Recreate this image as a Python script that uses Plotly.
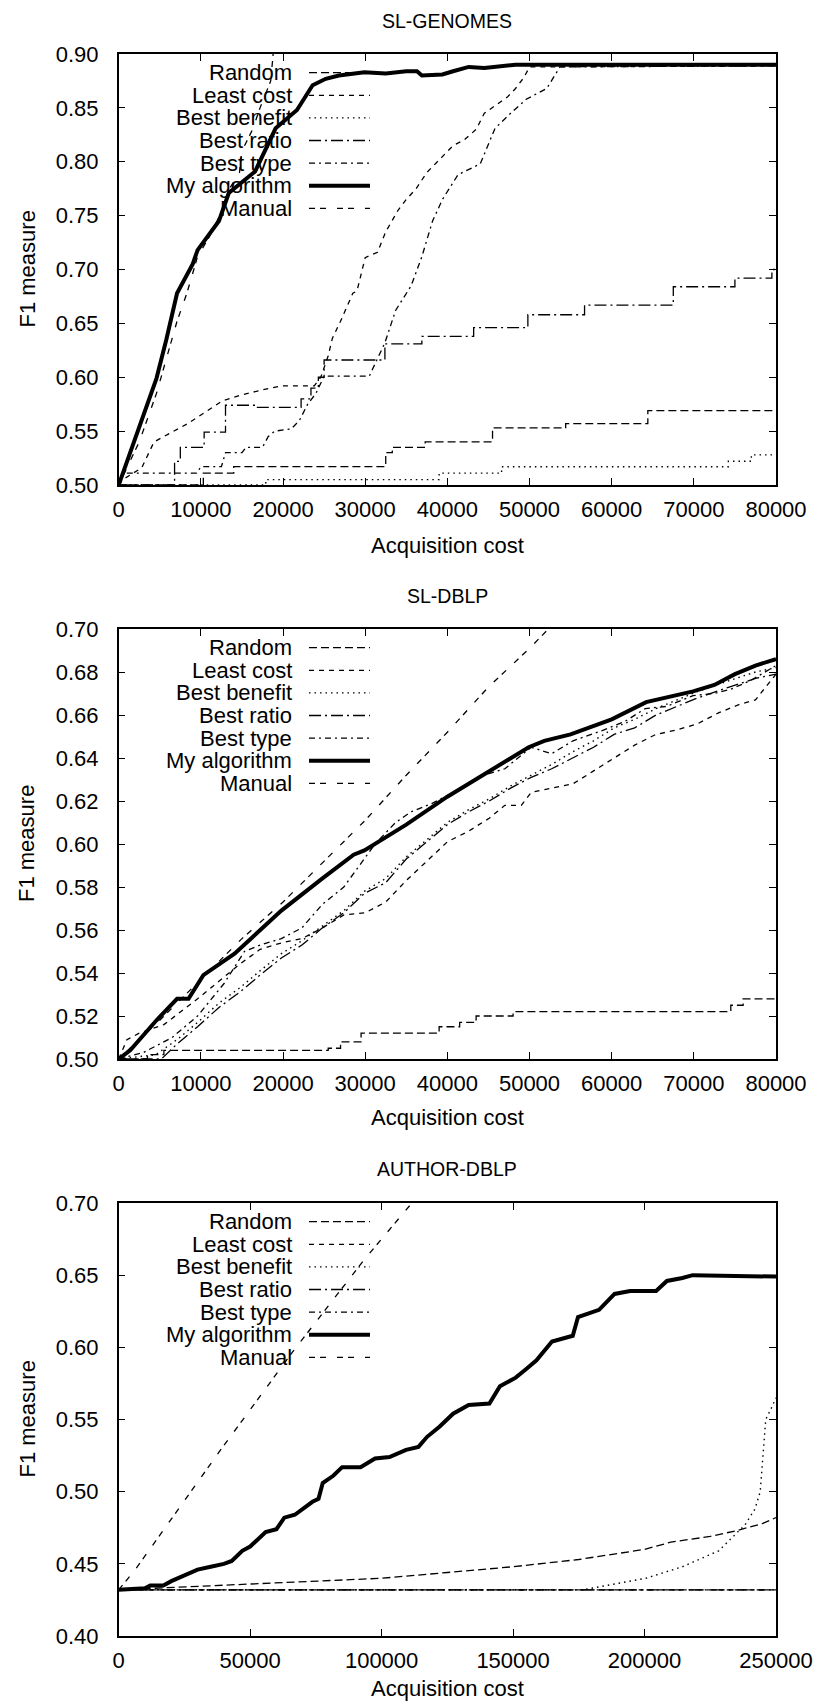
import plotly.graph_objects as go

FONT = "Liberation Sans, Arial, sans-serif"

# ---------------- Panel 1: SL-GENOMES ----------------
p1_random_x = [0, 10300, 14000, 32500, 33300, 37300, 45500, 54400, 64400, 80000]
p1_random_y = [0.50, 0.511, 0.517, 0.530, 0.535, 0.540, 0.553, 0.557, 0.569, 0.569]

p1_least_x = [0, 500, 2800, 4300, 8400, 12600, 14700, 17300, 19800, 23800, 24600, 25500, 26000,
              27000, 28500, 29000, 30000, 31500, 32500, 34000, 35000, 36200, 37500, 38800,
              40700, 42000, 43500, 44500, 46300, 47300, 48300, 49300, 50000, 80000]
p1_least_y = [0.500, 0.505, 0.516, 0.540, 0.557, 0.578, 0.583, 0.588, 0.592, 0.592, 0.600, 0.620, 0.636,
              0.652, 0.678, 0.680, 0.711, 0.716, 0.735, 0.755, 0.765, 0.775, 0.790, 0.800,
              0.815, 0.820, 0.830, 0.845, 0.855, 0.860, 0.868, 0.878, 0.888, 0.889]

p1_benefit_x = [0, 17900, 39000, 46600, 74200, 77000, 80000]
p1_benefit_y = [0.500, 0.505, 0.511, 0.517, 0.522, 0.528, 0.528]

p1_ratio_x = [0, 6800, 7500, 10400, 13000, 16800, 22200, 23400, 24300, 25000, 32400, 36900,
              43200, 49800, 56700, 67500, 75000, 79500, 80000]
p1_ratio_y = [0.500, 0.522, 0.535, 0.549, 0.574, 0.572, 0.580, 0.590, 0.600, 0.616, 0.631, 0.638,
              0.646, 0.658, 0.667, 0.684, 0.692, 0.700, 0.700]

p1_type_x = [0, 600, 9500, 10000, 12500, 13000, 15000, 15500, 17500, 18200, 19000, 21000, 22000,
             23000, 24000, 25000, 30500, 31200, 32400, 33700, 35600, 36900, 38200, 39400, 41300,
             44000, 45800, 47700, 49600, 52100, 53700, 80000]
p1_type_y = [0.500, 0.511, 0.511, 0.517, 0.517, 0.530, 0.530, 0.535, 0.535, 0.545, 0.550, 0.552, 0.560,
             0.575, 0.585, 0.601, 0.601, 0.612, 0.632, 0.662, 0.685, 0.712, 0.745, 0.765, 0.788,
             0.798, 0.831, 0.845, 0.858, 0.868, 0.888, 0.889]

p1_algo_x = [0, 2000, 4600, 5800, 7100, 9000, 9600, 12200, 13400, 16600, 19100, 21700, 23600,
             25200, 26800, 29900, 32500, 35000, 36300, 36900, 39400, 40700, 42600, 44500,
             48300, 80000]
p1_algo_y = [0.500, 0.542, 0.599, 0.635, 0.678, 0.705, 0.718, 0.745, 0.771, 0.791, 0.831, 0.848,
             0.871, 0.877, 0.880, 0.883, 0.882, 0.884, 0.884, 0.880, 0.881, 0.884, 0.888, 0.887,
             0.890, 0.890]

p1_manual_x = [0, 2500, 4600, 7100, 8300, 9600, 11000, 12800, 13400, 14700, 15000, 16300, 17200, 18500, 18800]
p1_manual_y = [0.500, 0.540, 0.585, 0.652, 0.678, 0.712, 0.730, 0.758, 0.774, 0.790, 0.810, 0.830,
               0.850, 0.875, 0.900]

# ---------------- Panel 2: SL-DBLP ----------------
p2_random_x = [0, 3500, 5500, 25500, 27000, 29500, 39000, 41500, 43500, 48000, 74500, 76000, 80000]
p2_random_y = [0.500, 0.502, 0.504, 0.505, 0.508, 0.512, 0.515, 0.517, 0.520, 0.522, 0.525, 0.528, 0.528]

p2_least_x = [0, 1000, 2500, 5500, 9600, 12200, 14700, 17200, 19800, 22300, 24800, 27400, 30000,
              32500, 35000, 37500, 40000, 42600, 45100, 47000, 49000, 50200, 52700, 55300,
              57800, 60300, 62800, 65400, 67900, 70500, 73000, 75600, 77500, 80000]
p2_least_y = [0.500, 0.509, 0.512, 0.516, 0.528, 0.536, 0.544, 0.551, 0.554, 0.556, 0.561, 0.567, 0.568,
              0.573, 0.583, 0.592, 0.601, 0.606, 0.612, 0.618, 0.618, 0.624, 0.626, 0.628,
              0.634, 0.640, 0.646, 0.651, 0.653, 0.656, 0.661, 0.665, 0.667, 0.679]

p2_benefit_x = [0, 4500, 7100, 9600, 12200, 14700, 17200, 19800, 22300, 24800, 27400, 29900, 32500,
                35000, 37500, 40000, 42600, 45100, 47700, 50200, 52700, 55300, 57800, 60300,
                62800, 65400, 67900, 70500, 74300, 77500, 80000]
p2_benefit_y = [0.500, 0.502, 0.509, 0.517, 0.526, 0.533, 0.541, 0.549, 0.555, 0.562, 0.569, 0.578, 0.584,
                0.594, 0.602, 0.610, 0.616, 0.621, 0.627, 0.632, 0.637, 0.643, 0.648, 0.654,
                0.658, 0.663, 0.667, 0.671, 0.676, 0.680, 0.682]

p2_ratio_x = [0, 5200, 7100, 9600, 12200, 14700, 17200, 19800, 22300, 24800, 27400, 29900, 32500,
              35000, 37500, 40000, 42600, 45100, 47700, 50200, 52700, 55300, 57800, 60300,
              62800, 65400, 67900, 70500, 74300, 77500, 80000]
p2_ratio_y = [0.500, 0.500, 0.507, 0.515, 0.524, 0.531, 0.539, 0.547, 0.553, 0.561, 0.568, 0.577, 0.582,
              0.593, 0.601, 0.609, 0.615, 0.620, 0.626, 0.631, 0.635, 0.640, 0.645, 0.651,
              0.654, 0.660, 0.664, 0.668, 0.673, 0.677, 0.679]

p2_type_x = [0, 3000, 6500, 9600, 12800, 15300, 17200, 19800, 22300, 24800, 27400, 29300, 31200,
             33700, 35600, 38200, 40700, 44500, 47000, 50200, 52700, 55300, 59000, 61600,
             64100, 66700, 69900, 72400, 74500, 76900, 80000]
p2_type_y = [0.500, 0.503, 0.510, 0.520, 0.535, 0.550, 0.553, 0.556, 0.561, 0.572, 0.580, 0.590, 0.600,
             0.610, 0.615, 0.619, 0.624, 0.632, 0.635, 0.645, 0.642, 0.648, 0.653, 0.657,
             0.663, 0.664, 0.669, 0.670, 0.672, 0.676, 0.683]

p2_algo_x = [0, 1400, 4600, 7100, 8500, 10300, 14100, 19800, 24800, 28600, 29900, 35000, 40000,
             47000, 49900, 51800, 55000, 60000, 64200, 69900, 72500, 75000, 77500, 80000]
p2_algo_y = [0.500, 0.504, 0.518, 0.528, 0.528, 0.539, 0.549, 0.569, 0.584, 0.595, 0.597, 0.609, 0.622,
             0.638, 0.645, 0.648, 0.651, 0.658, 0.666, 0.671, 0.674, 0.679, 0.683, 0.686]

p2_manual_x = [0, 5000, 10000, 15000, 20000, 25000, 30000, 35000, 40000, 45000, 50000, 52300]
p2_manual_y = [0.500, 0.518, 0.537, 0.556, 0.573, 0.592, 0.611, 0.632, 0.652, 0.673, 0.691, 0.700]

# ---------------- Panel 3: AUTHOR-DBLP ----------------
p3_random_x = [0, 25000, 50000, 75000, 100000, 125000, 150000, 175000, 190000, 200000, 210000,
               225000, 235000, 245000, 250000]
p3_random_y = [0.432, 0.434, 0.436, 0.438, 0.440, 0.444, 0.448, 0.453, 0.457, 0.460, 0.465,
               0.469, 0.473, 0.478, 0.482]

p3_least_x = [0, 250000]
p3_least_y = [0.432, 0.432]

p3_benefit_x = [0, 176700, 188600, 200500, 214400, 228200, 238200, 242000, 244000, 246100, 248000, 250000]
p3_benefit_y = [0.432, 0.432, 0.436, 0.440, 0.448, 0.459, 0.477, 0.488, 0.500, 0.550, 0.557, 0.565]

p3_ratio_x = [0, 250000]
p3_ratio_y = [0.432, 0.432]

p3_type_x = [0, 250000]
p3_type_y = [0.432, 0.432]

p3_algo_x = [0, 10000, 12000, 17000, 20000, 25000, 30000, 35000, 40000, 43000, 47000, 50000, 55900,
             60000, 63000, 67000, 73700, 76000, 77600, 81600, 85000, 92000, 97500, 103000,
             109300, 114000, 117300, 122000, 127200, 133100, 141000, 145000, 151000, 155000,
             158900, 164800, 167000, 172700, 174700, 182700, 188600, 194500, 204400, 208500,
             214400, 218300, 250000]
p3_algo_y = [0.432, 0.433, 0.435, 0.435, 0.438, 0.442, 0.446, 0.448, 0.450, 0.452, 0.459, 0.462, 0.472,
             0.474, 0.482, 0.484, 0.493, 0.495, 0.506, 0.511, 0.517, 0.517, 0.523, 0.524,
             0.529, 0.531, 0.538, 0.545, 0.554, 0.560, 0.561, 0.573, 0.579, 0.585,
             0.591, 0.604, 0.605, 0.608, 0.621, 0.626, 0.637, 0.639, 0.639, 0.646,
             0.648, 0.650, 0.649]

p3_manual_x = [0, 6300, 20000, 38000, 65800, 93500, 111500]
p3_manual_y = [0.432, 0.446, 0.481, 0.527, 0.596, 0.661, 0.700]

# ---------------- labels / axes ----------------
series_names = ["Random", "Least cost", "Best benefit", "Best ratio", "Best type", "My algorithm", "Manual"]
panel_titles = ["SL-GENOMES", "SL-DBLP", "AUTHOR-DBLP"]
x_ranges = [[0, 80000], [0, 80000], [0, 250000]]
y_ranges = [[0.50, 0.90], [0.50, 0.70], [0.40, 0.70]]
x_dticks = [10000, 10000, 50000]
y_dticks = [0.05, 0.02, 0.05]
x_title = "Acquisition cost"
y_title = "F1 measure"

panels = [
    [(p1_random_x, p1_random_y), (p1_least_x, p1_least_y), (p1_benefit_x, p1_benefit_y),
     (p1_ratio_x, p1_ratio_y), (p1_type_x, p1_type_y), (p1_algo_x, p1_algo_y), (p1_manual_x, p1_manual_y)],
    [(p2_random_x, p2_random_y), (p2_least_x, p2_least_y), (p2_benefit_x, p2_benefit_y),
     (p2_ratio_x, p2_ratio_y), (p2_type_x, p2_type_y), (p2_algo_x, p2_algo_y), (p2_manual_x, p2_manual_y)],
    [(p3_random_x, p3_random_y), (p3_least_x, p3_least_y), (p3_benefit_x, p3_benefit_y),
     (p3_ratio_x, p3_ratio_y), (p3_type_x, p3_type_y), (p3_algo_x, p3_algo_y), (p3_manual_x, p3_manual_y)],
]

styles = [
    dict(dash="8px,4px", width=1.3),
    dict(dash="5px,5px", width=1.3),
    dict(dash="1.5px,4px", width=1.4),
    dict(dash="12px,4px,2px,4px", width=1.3),
    dict(dash="6px,4px,2px,4px", width=1.3),
    dict(dash="solid", width=4),
    dict(dash="6px,5px,6px,11px", width=1.3),
]
shapes_per_panel = [
    ["hv", "linear", "hv", "hv", "linear", "linear", "linear"],
    ["hv", "linear", "linear", "linear", "linear", "linear", "linear"],
    ["linear", "linear", "linear", "linear", "linear", "linear", "linear"],
]

# ---------------- layout geometry (pixels) ----------------
W, H = 816, 1704
LEFT, RIGHT = 118.7, 776
BOXES = [(54, 485), (629, 1059), (1203, 1636)]
TITLE_Y = [21.5, 596, 1169]
XTITLE_Y = [545, 1117, 1688]
LEG_TEXT_X = 294
LEG_LINE = (309, 370)
LEG_FIRST = 18.7
LEG_STEP = 22.6
FS = 22


def px(x):
    return x / W


def py(y):
    return 1 - y / H


fig = go.Figure()
annotations = []
shapes = []

for i, panel in enumerate(panels):
    xa = "x" if i == 0 else f"x{i+1}"
    ya = "y" if i == 0 else f"y{i+1}"
    for j, (xs, ys) in enumerate(panel):
        st = styles[j]
        fig.add_trace(go.Scatter(
            x=xs, y=ys, mode="lines", name=series_names[j], showlegend=False,
            xaxis=xa, yaxis=ya,
            line=dict(color="black", width=st["width"], dash=st["dash"], shape=shapes_per_panel[i][j]),
            hoverinfo="skip",
        ))
    top, bot = BOXES[i]
    axis_common = dict(
        showline=True, linecolor="black", linewidth=1.5, mirror="ticks",
        ticks="inside", ticklen=7, tickwidth=1.2, tickcolor="black",
        showgrid=False, zeroline=False, automargin=False,
        tickfont=dict(family=FONT, size=FS, color="black"),
    )
    fig.update_layout(**{
        ("xaxis" if i == 0 else f"xaxis{i+1}"): dict(
            axis_common, domain=[px(LEFT), px(RIGHT)], range=x_ranges[i], anchor=ya,
            dtick=x_dticks[i], tick0=0, tickformat="d", ticklabelstandoff=4,
        ),
        ("yaxis" if i == 0 else f"yaxis{i+1}"): dict(
            axis_common, domain=[py(bot), py(top)], range=y_ranges[i], anchor=xa,
            dtick=y_dticks[i], tick0=0, tickformat=".2f", ticklabelstandoff=14,
        ),
    })
    annotations.append(dict(text=panel_titles[i], x=px((LEFT + RIGHT) / 2), y=py(TITLE_Y[i]),
                            xref="paper", yref="paper", showarrow=False, xanchor="center",
                            yanchor="middle", font=dict(family=FONT, size=19.5, color="black")))
    annotations.append(dict(text=x_title, x=px((LEFT + RIGHT) / 2), y=py(XTITLE_Y[i]),
                            xref="paper", yref="paper", showarrow=False, xanchor="center",
                            yanchor="middle", font=dict(family=FONT, size=FS, color="black")))
    annotations.append(dict(text=y_title, x=px(27), y=py((top + bot) / 2),
                            xref="paper", yref="paper", showarrow=False, xanchor="center",
                            yanchor="middle", textangle=-90,
                            font=dict(family=FONT, size=FS, color="black")))
    for j, name in enumerate(series_names):
        yy = top + LEG_FIRST + j * LEG_STEP
        annotations.append(dict(text=name, x=px(LEG_TEXT_X), y=py(yy), xref="paper", yref="paper",
                                showarrow=False, xanchor="right", yanchor="middle",
                                font=dict(family=FONT, size=FS, color="black")))
        st = styles[j]
        shapes.append(dict(type="line", xref="paper", yref="paper",
                           x0=px(LEG_LINE[0]), x1=px(LEG_LINE[1]), y0=py(yy), y1=py(yy),
                           line=dict(color="black", width=st["width"], dash=st["dash"])))

fig.update_layout(
    width=W, height=H, margin=dict(l=0, r=0, t=0, b=0, autoexpand=False),
    paper_bgcolor="white", plot_bgcolor="white",
    annotations=annotations, shapes=shapes, showlegend=False,
    font=dict(family=FONT, color="black"),
)

fig.write_html("out.html")
